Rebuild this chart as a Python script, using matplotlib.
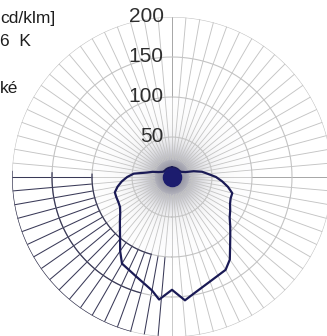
import matplotlib
matplotlib.use('Agg')
import matplotlib.pyplot as plt
import numpy as np

plt.rcParams['font.family'] = ['Liberation Sans', 'DejaVu Sans']

# luminous intensity in cd/klm, gamma measured from nadir
gamma = [0, 6, 10, 20, 30, 35, 40, 45, 50, 55, 60, 65, 70, 75, 80, 85,
         90, 95, 100, 105, 110, 120, 130, 140, 150, 160, 170, 180]
i_right = [141, 155, 149, 139, 134, 126, 113, 103, 95, 88, 84, 80, 78, 78, 71, 63,
           55, 45, 38, 28, 18, 13, 12, 12, 12, 12, 12, 12]
i_left = [141, 154, 144, 132, 125, 113, 101, 92, 85, 79, 75, 74, 74, 74, 69, 63,
          56, 48, 32, 25, 18, 13, 12, 12, 12, 12, 12, 12]
r_ticks = [50, 100, 150, 200]
header = ['cd/klm]', '6  K', 'ké']

W, H = 327, 336
fig = plt.figure(figsize=(W / 100, H / 100), dpi=100)
cx, cy, R = 172, 177, 160
rect = [(cx - R) / W, (H - cy - R) / H, 2 * R / W, 2 * R / H]

# grey haze round the lamp
axh = fig.add_axes(rect)
xx, yy = np.meshgrid(np.linspace(-200, 200, 300), np.linspace(-200, 200, 300))
rr = np.hypot(xx, yy)
img = np.zeros((300, 300, 4))
img[..., :3] = [0.45, 0.45, 0.52]
img[..., 3] = 0.75 * np.exp(-(rr / 30) ** 2) + 0.12 * np.exp(-(rr / 60) ** 2)
axh.imshow(img, extent=(-200, 200, -200, 200))
axh.axis('off')

ax = fig.add_axes(rect, projection='polar')
ax.patch.set_alpha(0)
ax.set_theta_zero_location('S')
ax.set_ylim(0, 200)
ax.grid(False)
ax.set_xticks([])
ax.set_yticks([])
ax.spines['polar'].set_visible(False)

light = '#c4c4c4'
dark = '#3a3a58'

# radial lines every 5 degrees
for a in range(0, 360, 5):
    t = np.radians(a)
    in_dark = 270 <= a <= 355
    col = '#a0a0a0' if a in (90, 180) else light
    ax.plot([t, t], [22, 100], color=light, lw=0.6, zorder=1)
    ax.plot([t, t], [100, 200], color=dark if in_dark else col,
            lw=0.75 if in_dark else 0.65, zorder=1)

# circles
th = np.linspace(0, 2 * np.pi, 721)
for rv in [25, 50, 100, 150, 200]:
    ls = (0, (2, 2)) if rv == 25 else '-'
    ax.plot(th, np.full_like(th, rv), color=light, lw=0.8, ls=ls, zorder=1)
    if rv >= 100:
        td = np.radians(np.linspace(268, 345, 100))
        ax.plot(td, np.full_like(td, rv), color=dark, lw=0.9, zorder=1)

# intensity curve
g = np.radians(gamma)
theta = np.concatenate([-g[::-1], g[1:]])
vals = np.concatenate([np.array(i_left)[::-1], np.array(i_right)[1:]])
ax.plot(theta, vals, color='#1a1a55', lw=1.6, zorder=3)
ax.scatter([0], [0], s=170, color='#1c1c6e', zorder=4)

for v in r_ticks:
    ax.annotate(str(v), xy=(np.pi, v), xytext=(-6, 0), textcoords='offset points',
                ha='right', va='center', fontsize=15, color='#2e2e2e', zorder=5)

fig.text(0, 1 - 19 / H, header[0], ha='left', va='center', fontsize=12.5, color='#1e1e1e')
fig.text(0, 1 - 41 / H, header[1], ha='left', va='center', fontsize=12.5, color='#1e1e1e')
fig.text(0, 1 - 89 / H, header[2], ha='left', va='center', fontsize=12.5, color='#1e1e1e')

fig.savefig('out.png', dpi=100)
